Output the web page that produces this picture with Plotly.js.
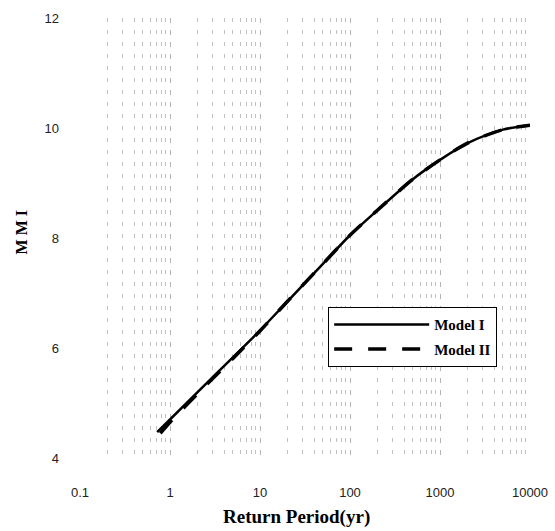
<!DOCTYPE html>
<html>
<head>
<meta charset="utf-8">
<script src="https://cdn.plot.ly/plotly-3.0.1.min.js"></script>
<style>html,body{margin:0;padding:0;background:#fff}#chart{width:555px;height:531px}</style>
</head>
<body>
<div id="chart"></div>
<script>
var returnPeriod = [0.72, 1, 2, 5, 10, 20, 50, 100, 200, 500, 1000, 2000, 5000, 10000];
var modelI  = [4.47, 4.70, 5.19, 5.83, 6.32, 6.84, 7.53, 8.05, 8.50, 9.07, 9.42, 9.72, 9.97, 10.05];
var returnPeriodII = [0.78, 1, 2, 5, 10, 20, 50, 100, 200, 500, 1000, 2000, 5000, 10000];
var modelII = [4.45, 4.65, 5.16, 5.81, 6.31, 6.84, 7.53, 8.05, 8.50, 9.07, 9.42, 9.72, 9.97, 10.05];
var xTickVals = [0.1, 1, 10, 100, 1000, 10000];
var xTickText = ["0.1", "1", "10", "100", "1000", "10000"];
var yTickVals = [4, 6, 8, 10, 12];
var seriesNames = ["Model I", "Model II"];
var xTitle = "Return Period(yr)";
var yTitle = "M M I";

var traces = [
  {x: returnPeriod, y: modelI, name: seriesNames[0], mode: "lines", legendgroup: "a",
   line: {color: "#000", width: 2.5, shape: "spline", smoothing: 0.8}},
  {x: returnPeriodII, y: modelII, name: seriesNames[1], mode: "lines", legendgroup: "b",
   line: {color: "#000", width: 3.5, dash: "18px,16px", shape: "spline", smoothing: 0.8}}
];

var layout = {
  width: 555, height: 531,
  margin: {l: 80, r: 25, t: 18, b: 73},
  paper_bgcolor: "#fff", plot_bgcolor: "#fff",
  showlegend: true,
  legend: {
    x: 0.551, y: 0.343, xanchor: "left", yanchor: "top",
    bgcolor: "#fff", bordercolor: "#000", borderwidth: 1.2,
    font: {family: "Liberation Serif", size: 15, color: "#000", weight: "bold"},
    itemwidth: 95, traceorder: "grouped", tracegroupgap: 2
  },
  xaxis: {
    type: "log", range: [-1, 4],
    tickvals: xTickVals, ticktext: xTickText,
    ticks: "", showline: false, zeroline: false,
    showgrid: true, gridcolor: "#b5b5b5", gridwidth: 1, griddash: "5px,7px",
    minor: {dtick: "D1", showgrid: true, gridcolor: "#c0c0c0", gridwidth: 1, griddash: "4px,8px"},
    tickfont: {family: "Liberation Sans", size: 13, color: "#222"},
    ticklabelstandoff: 25
  },
  yaxis: {
    range: [4, 12],
    tickvals: yTickVals,
    ticks: "", showline: false, zeroline: false, showgrid: false,
    tickfont: {family: "Liberation Sans", size: 13, color: "#222"},
    ticklabelstandoff: 20
  },
  annotations: [
    {text: xTitle, xref: "paper", yref: "paper", x: 0.482, y: -0.134,
     xanchor: "center", yanchor: "middle", showarrow: false,
     font: {family: "Liberation Serif", size: 19, color: "#000", weight: "bold"}},
    {text: yTitle, xref: "paper", yref: "paper", x: -0.129, y: 0.5125, textangle: -90,
     xanchor: "center", yanchor: "middle", showarrow: false,
     font: {family: "Liberation Serif", size: 16, color: "#000", weight: "bold"}}
  ]
};

Plotly.newPlot("chart", traces, layout, {displayModeBar: false, staticPlot: true});
</script>
</body>
</html>
